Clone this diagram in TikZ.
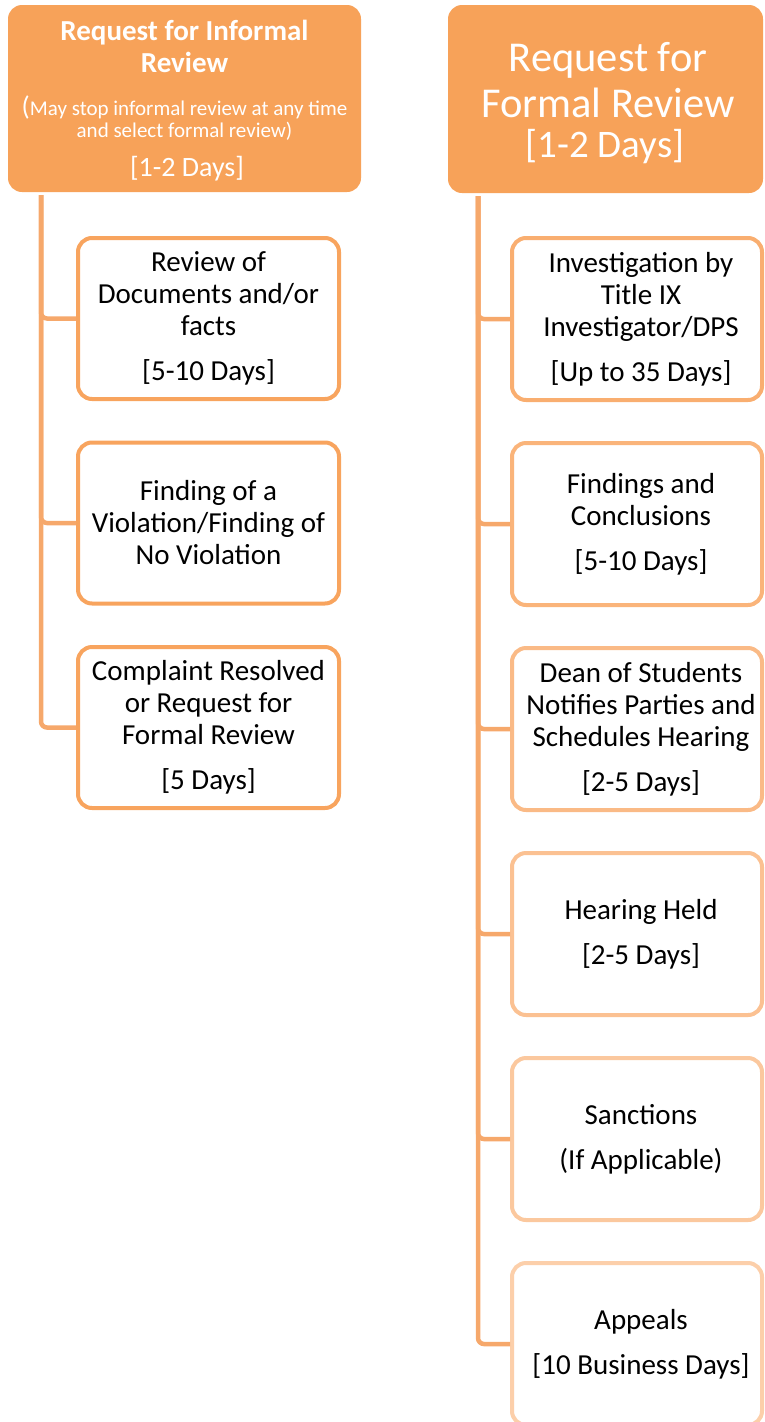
\documentclass[tikz,border=0pt]{standalone}
\usepackage{fontspec}
\setmainfont{Carlito}
\definecolor{hdr}{RGB}{247,162,89}
\definecolor{conn}{RGB}{246,168,107}
\definecolor{lb}{RGB}{248,164,94}
\definecolor{rb1}{RGB}{249,174,112}
\definecolor{rb2}{RGB}{250,180,122}
\definecolor{rb3}{RGB}{250,186,134}
\definecolor{rb4}{RGB}{251,193,146}
\definecolor{rb5}{RGB}{251,200,158}
\definecolor{rb6}{RGB}{252,207,170}
\tikzset{
  header/.style={fill=hdr, rounded corners=14pt, text=white, align=center, inner sep=0pt},
  boxfont/.style={font=\fontsize{29}{32}\selectfont},
  stepbox/.style={draw, fill=white, line width=4pt, rounded corners=14pt, align=center, inner sep=0pt, boxfont},
  lbox/.style={stepbox, draw=lb, minimum width=261pt, minimum height=161pt},
  rbox/.style={stepbox, minimum width=250pt, minimum height=162pt},
  rtext/.style={align=center, boxfont, xshift=4pt, inner sep=0pt},
  conline/.style={draw=conn, line width=4.5pt, rounded corners=6pt},
}
\begin{document}
\begin{tikzpicture}[x=1pt,y=-1pt]
\useasboundingbox (0,0) rectangle (764,1422);
% headers
\node[header, minimum width=353pt, minimum height=187pt] (lh) at (184.5,98.5) {};
\node[text=white, align=center, font=\fontsize{29}{32}\selectfont\bfseries] (lht) at (184.5,46) {Request for Informal\\Review};
\node[text=white, align=center, font=\fontsize{21}{22}\selectfont] (lhs) at (184.5,118) {{\fontsize{27}{22}\selectfont(}May stop informal review at any time\\and select formal review)};
\node[text=white, font=\fontsize{28}{32}\selectfont] (lhd) at (187,169) {[1-2 Days]};

\node[header, minimum width=315pt, minimum height=188pt] (rh) at (605.5,99) {};
\node[text=white, align=center, font=\fontsize{42.5}{46}\selectfont] (rht) at (608,80) {Request for\\Formal Review};
\node[text=white, font=\fontsize{39}{44}\selectfont] (rhd) at (605,147) {[1-2 Days]};

% left boxes
\node[lbox] (l1) at (208.5,318.5) {Review of\\Documents and/or\\facts\\[13pt][5-10 Days]};
\node[lbox] (l2) at (208.5,523) {Finding of a\\Violation/Finding of\\No Violation};
\node[lbox] (l3) at (208.5,727.5) {Complaint Resolved\\or Request for\\Formal Review\\[13pt][5 Days]};

% right boxes
\node[rbox, draw=rb1, label={[rtext]center:{Investigation by\\Title IX\\Investigator/DPS\\[13pt][Up to 35 Days]}}] (r1) at (637,319) {};
\node[rbox, draw=rb2, label={[rtext]center:{Findings and\\Conclusions\\[13pt][5-10 Days]}}] (r2) at (637,524) {};
\node[rbox, draw=rb3, label={[rtext]center:{Dean of Students\\Notifies Parties and\\Schedules Hearing\\[13pt][2-5 Days]}}] (r3) at (637,729) {};
\node[rbox, draw=rb4, label={[rtext]center:{Hearing Held\\[13pt][2-5 Days]}}] (r4) at (637,934) {};
\node[rbox, draw=rb5, label={[rtext]center:{Sanctions\\[13pt](If Applicable)}}] (r5) at (637,1139) {};
\node[rbox, draw=rb6, label={[rtext]center:{Appeals\\[13pt][10 Business Days]}}] (r6) at (637,1344) {};

% connectors
\coordinate (ls) at (41,195);
\coordinate (rs) at (478,196);
\foreach \b in {l1,l2,l3} {
  \path[conline] (ls) |- (\b.west);
}
\foreach \b in {r1,r2,r3,r4,r5,r6} {
  \path[conline] (rs) |- (\b.west);
}
\end{tikzpicture}
\end{document}
